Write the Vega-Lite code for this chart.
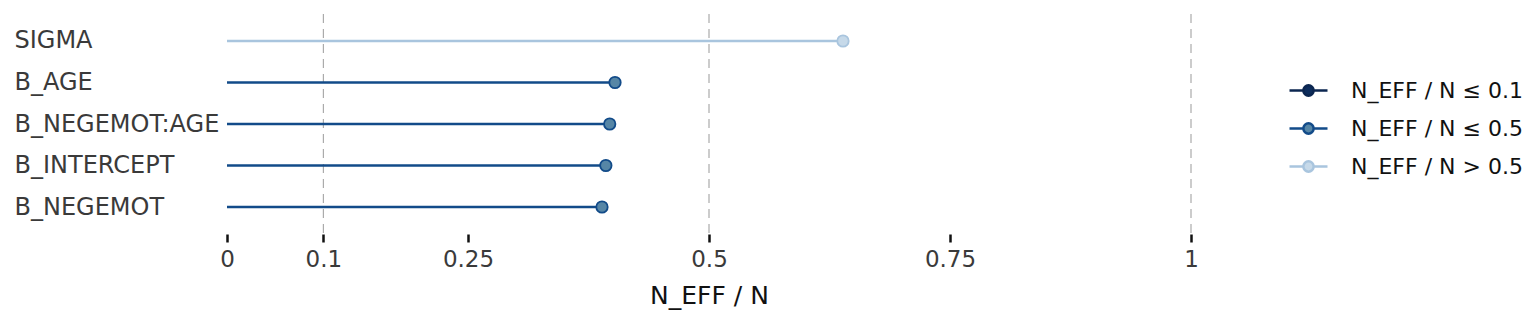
{
  "$schema": "https://vega.github.io/schema/vega-lite/v6.json",
  "width": 964,
  "height": 220,
  "padding": {"left": 14, "top": 13, "right": 5, "bottom": 5},
  "background": "white",
  "config": {
    "view": {"stroke": null},
    "font": "DejaVu Sans",
    "legend": {"title": null, "orient": "none", "legendX": 1061, "legendY": 56,
      "symbolType": "M-1,0L-0.27,0M0.27,0L1,0M-0.27,0A0.27,0.27,0,1,1,0.27,0A0.27,0.27,0,1,1,-0.27,0Z",
      "symbolSize": 1444, "symbolStrokeWidth": 2.5, "labelFontSize": 22, "labelColor": "#111111", "labelFont": "DejaVu Sans",
      "labelOffset": 22, "rowPadding": 6, "labelLimit": 0}
  },
  "data": {
    "values": [
      {"param": "SIGMA", "ratio": 0.639, "rating": "N_EFF / N > 0.5"},
      {"param": "B_AGE", "ratio": 0.4025, "rating": "N_EFF / N ≤ 0.5"},
      {"param": "B_NEGEMOT:AGE", "ratio": 0.397, "rating": "N_EFF / N ≤ 0.5"},
      {"param": "B_INTERCEPT", "ratio": 0.393, "rating": "N_EFF / N ≤ 0.5"},
      {"param": "B_NEGEMOT", "ratio": 0.389, "rating": "N_EFF / N ≤ 0.5"}
    ]
  },
  "layer": [
    {
      "data": {"values": [{"v": 0.1}, {"v": 0.5}, {"v": 1}]},
      "mark": {"type": "rule", "color": "#ababab", "strokeWidth": 1.2, "strokeDash": [9, 6]},
      "encoding": {
        "x": {"field": "v", "type": "quantitative", "scale": {"domain": [0, 1], "nice": false, "zero": false}}
      }
    },
    {
      "mark": {"type": "rule", "strokeWidth": 2.5},
      "encoding": {
        "y": {"field": "param", "type": "nominal", "sort": null},
        "x": {"field": "ratio", "type": "quantitative"},
        "x2": {"datum": 0},
        "stroke": {
          "field": "rating", "type": "nominal",
          "scale": {"domain": ["N_EFF / N ≤ 0.1", "N_EFF / N ≤ 0.5", "N_EFF / N > 0.5"], "range": ["#0b2650", "#124b89", "#a9c5de"]}
        }
      }
    },
    {
      "mark": {"type": "point", "filled": false, "size": 130, "strokeWidth": 1.8, "opacity": 1, "shape": "circle"},
      "encoding": {
        "y": {"field": "param", "type": "nominal", "sort": null,
          "scale": {"type": "point", "padding": 0.65},
          "axis": {"title": null, "ticks": false, "tickSize": 0, "domain": false, "grid": false,
            "labelAlign": "left", "labelPadding": 213, "labelFontSize": 24, "labelColor": "#3a3a3a", "labelFont": "DejaVu Sans", "labelLimit": 0}
        },
        "x": {"field": "ratio", "type": "quantitative",
          "axis": {"title": "N_EFF / N", "values": [0, 0.1, 0.25, 0.5, 0.75, 1], "format": "~g",
            "domain": false, "grid": false, "ticks": true, "tickSize": 8, "tickWidth": 2.5, "tickColor": "#111111",
            "labelFontSize": 23, "labelColor": "#3a3a3a", "labelPadding": 6, "labelFont": "DejaVu Sans", "labelFlush": false,
            "titleFontSize": 25, "titleFontWeight": "normal", "titleColor": "#111111", "titlePadding": 12, "titleFont": "DejaVu Sans"}
        },
        "stroke": {
          "field": "rating", "type": "nominal",
          "scale": {"domain": ["N_EFF / N ≤ 0.1", "N_EFF / N ≤ 0.5", "N_EFF / N > 0.5"], "range": ["#0b2650", "#124b89", "#a9c5de"]}
        },
        "fill": {
          "field": "rating", "type": "nominal",
          "scale": {"domain": ["N_EFF / N ≤ 0.1", "N_EFF / N ≤ 0.5", "N_EFF / N > 0.5"], "range": ["#0d2d5c", "#5686a6", "#c6d9e9"]}
        }
      }
    }
  ]
}
